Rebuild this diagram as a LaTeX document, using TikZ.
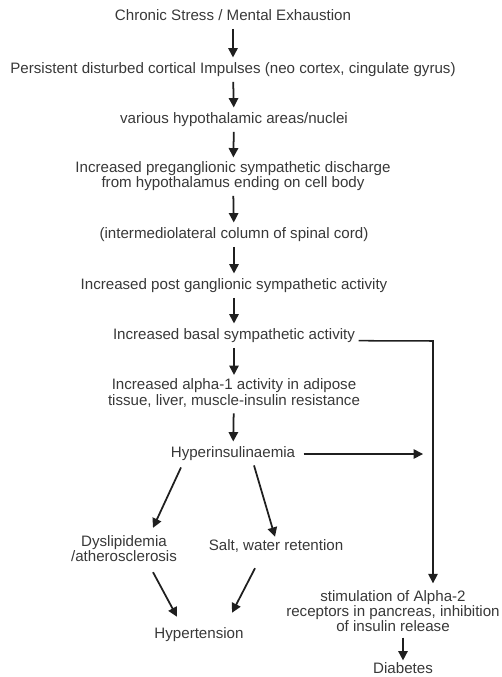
\documentclass[tikz,border=0pt]{standalone}
\usepackage{fontspec}
\setmainfont{Liberation Sans}
\usetikzlibrary{arrows.meta}
\definecolor{txt}{gray}{0.22}
\definecolor{arrcol}{gray}{0.12}

\begin{document}
\begin{tikzpicture}[x=0.03cm,y=-0.03cm,
    box/.style={font=\fontsize{12.9}{12}\selectfont, text=txt, align=center, inner sep=1pt, text height=9pt, text depth=3pt},
    twolines/.style={box, text height=21pt},
    threelines/.style={box, text height=33pt},
    arr/.style={-{Triangle[width=8pt,length=8pt]}, draw=arrcol, line width=1.5pt, shorten <=3pt, shorten >=3.5pt},
    diag/.style={arr, shorten <=0pt, shorten >=0pt}]
    \useasboundingbox (0,0) rectangle (501,677);

    % main chain
    \node[box] (stress) at (233,17) {Chronic Stress / Mental Exhaustion};
    \node[box] (cortex) at (233,70) {Persistent disturbed cortical Impulses (neo cortex, cingulate gyrus)};
    \node[box] (hypoth) at (234,120) {various hypothalamic areas/nuclei};
    \node[twolines] (pregang) at (233,177) {Increased preganglionic sympathetic discharge\\from hypothalamus ending on cell body};
    \node[box] (column) at (234,235) {(intermediolateral column of spinal cord)};
    \node[box] (postgang) at (234,286) {Increased post ganglionic sympathetic activity};
    \node[box] (basal) at (234,336) {Increased basal sympathetic activity};
    \node[twolines] (alphaone) at (234,394.5) {Increased alpha-1 activity in adipose\\tissue, liver, muscle-insulin resistance};
    \node[box] (hyper) at (233,454) {Hyperinsulinaemia};

    % branches
    \node[twolines] (dyslip) at (124,551) {Dyslipidemia\\/atherosclerosis};
    \node[box] (salt) at (276,547) {Salt, water retention};
    \node[box] (hypert) at (199,635) {Hypertension};
    \node[threelines] (alphatwo) at (393,614) {stimulation of Alpha-2\\receptors in pancreas, inhibition\\of insulin release};
    \node[box] (diab) at (403,670) {Diabetes};

    \coordinate (bend) at (433,341);

    \draw[arr] (stress) -- (cortex);
    \draw[arr] (cortex) -- (hypoth);
    \draw[arr] (hypoth) -- (pregang);
    \draw[arr] (pregang) -- (column);
    \draw[arr] (column) -- (postgang);
    \draw[arr] (postgang) -- (basal);
    \draw[arr] (basal) -- (alphaone);
    \draw[arr] (alphaone) -- (hyper);

    % right hand side
    \draw[arr, line width=1.3pt, shorten <=2pt, shorten >=7pt] ([yshift=-4pt]basal.east) -- (bend) -- (bend |- alphatwo.north);
    \draw[arr, line width=1.3pt, shorten <=6pt, shorten >=8.5pt] (hyper.east) -- (hyper.east -| bend);
    \draw[arr, shorten <=1pt, shorten >=1pt] (alphatwo.south -| diab.north) -- (diab.north);

    % diagonal arrows
    \draw[diag] ([shift={(-52,5)}]hyper.south) -- ([shift={(29,-7.7)}]dyslip.north);
    \draw[diag] ([shift={(21,3)}]hyper.south) -- ([shift={(-1,-1.8)}]salt.north);
    \draw[diag] ([shift={(29,5.7)}]dyslip.south) -- ([shift={(-22,-9.8)}]hypert.north);
    \draw[diag] ([shift={(-21,12.8)}]salt.south) -- ([shift={(33,-13.8)}]hypert.north);
\end{tikzpicture}
\end{document}
